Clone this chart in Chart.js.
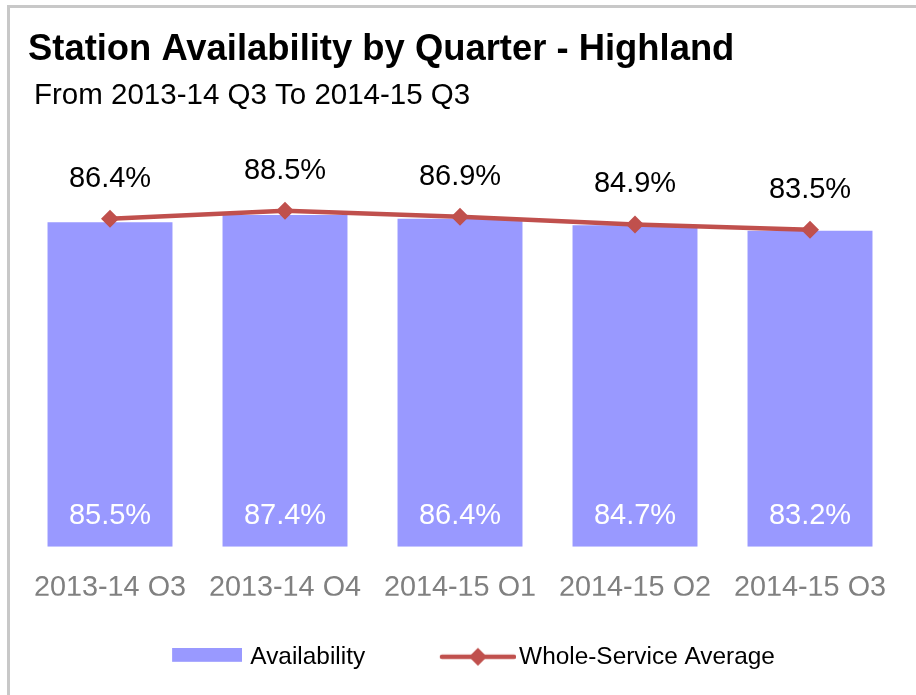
<!DOCTYPE html>
<html>
<head>
<meta charset="utf-8">
<title>Station Availability by Quarter - Highland</title>
<script src="https://cdn.jsdelivr.net/npm/chart.js"></script>
<style>
    body { margin: 0; background: #fff; overflow: hidden; }
    #frame { position: absolute; left: 7px; top: 5px; width: 1000px; height: 1000px; border: 3px solid #c8c8c8; }
    #myChart { position: absolute; left: 0; top: 0; }
</style>
</head>
<body>
<div id="frame"></div>
<canvas id="myChart" width="916" height="695"></canvas>
<script>
var quarters = ['2013-14 Q3', '2013-14 Q4', '2014-15 Q1', '2014-15 Q2', '2014-15 Q3'];
var availability = [85.5, 87.4, 86.4, 84.7, 83.2];
var serviceAverage = [86.4, 88.5, 86.9, 84.9, 83.5];

var titleText = 'Station Availability by Quarter - Highland';
var subtitleText = 'From 2013-14 Q3 To 2014-15 Q3';
var barColor = '#9999ff';
var lineColor = '#c0504d';

Chart.defaults.font.family = '"Liberation Sans", Arial, sans-serif';
Chart.defaults.color = '#000';

// legend swatches (drawn into small canvases, used as point styles)
function barSwatch() {
    var c = document.createElement('canvas');
    c.width = 101;
    c.height = 18;
    var g = c.getContext('2d');
    g.fillStyle = barColor;
    g.fillRect(31, 0, 70, 14);
    return c;
}

function lineSwatch() {
    var c = document.createElement('canvas');
    c.width = 111;
    c.height = 20;
    var g = c.getContext('2d');
    g.strokeStyle = lineColor;
    g.lineWidth = 4.5;
    g.lineCap = 'round';
    g.beginPath();
    g.moveTo(37, 10);
    g.lineTo(109, 10);
    g.stroke();
    g.fillStyle = lineColor;
    g.beginPath();
    g.moveTo(73, 1);
    g.lineTo(82, 10);
    g.lineTo(73, 19);
    g.lineTo(64, 10);
    g.closePath();
    g.fill();
    return c;
}

var valueLabels = {
    id: 'valueLabels',
    afterDatasetsDraw: function(chart) {
        var ctx = chart.ctx;
        ctx.save();
        ctx.font = '29px "Liberation Sans", Arial, sans-serif';
        ctx.textAlign = 'center';
        ctx.textBaseline = 'middle';
        chart.getDatasetMeta(0).data.forEach(function(bar, i) {
            ctx.fillStyle = '#ffffff';
            ctx.fillText(availability[i].toFixed(1) + '%', bar.x, bar.base - 31);
        });
        chart.getDatasetMeta(1).data.forEach(function(pt, i) {
            ctx.fillStyle = '#000000';
            ctx.fillText(serviceAverage[i].toFixed(1) + '%', pt.x, pt.y - 40);
        });
        ctx.restore();
    }
};

// titles sit a little right of the plot edge
var nudgeTitles = {
    id: 'nudgeTitles',
    afterLayout: function(chart) {
        chart.boxes.forEach(function(box) {
            if (!box.options) return;
            if (box.options.text === titleText) box.left += 5.5;
            if (box.options.text === subtitleText) box.left += 11.5;
        });
    }
};

var ctx = document.getElementById('myChart').getContext('2d');
var myChart = new Chart(ctx, {
    type: 'bar',
    data: {
        labels: quarters,
        datasets: [{
            label: 'Availability',
            data: availability,
            backgroundColor: barColor,
            barPercentage: 0.714,
            categoryPercentage: 1,
            order: 1
        }, {
            type: 'line',
            label: 'Whole-Service Average',
            data: serviceAverage,
            borderColor: lineColor,
            backgroundColor: lineColor,
            borderWidth: 4.5,
            tension: 0,
            pointStyle: 'rectRot',
            pointRadius: 9,
            pointBorderWidth: 0,
            order: 0
        }]
    },
    options: {
        responsive: false,
        animation: false,
        layout: {
            padding: { left: 22.5, right: 18.5, top: 0, bottom: 16 }
        },
        scales: {
            x: {
                grid: { display: false },
                border: { display: false },
                ticks: { color: '#808080', font: { size: 28.8 }, padding: 15.7 },
                afterFit: function(scale) { scale.height = 49; }
            },
            y: {
                display: false,
                min: 0,
                max: 100
            }
        },
        plugins: {
            title: {
                display: true,
                text: titleText,
                align: 'start',
                color: '#000',
                font: { size: 36.4, weight: 'bold' },
                padding: { top: 28.2, bottom: 0 }
            },
            subtitle: {
                display: true,
                text: subtitleText,
                align: 'start',
                color: '#000',
                font: { size: 29.5 },
                padding: { top: 6.5, bottom: 53.3 }
            },
            legend: {
                position: 'bottom',
                labels: {
                    usePointStyle: true,
                    pointStyleWidth: 93,
                    padding: 48.8,
                    color: '#000',
                    font: { size: 24.4 },
                    generateLabels: function(chart) {
                        return [
                            { text: 'Availability', pointStyle: barSwatch(), datasetIndex: 0, hidden: false, lineWidth: 0 },
                            { text: 'Whole-Service Average', pointStyle: lineSwatch(), datasetIndex: 1, hidden: false, lineWidth: 0 }
                        ];
                    }
                }
            },
            tooltip: { enabled: false }
        }
    },
    plugins: [valueLabels, nudgeTitles]
});
</script>
</body>
</html>
